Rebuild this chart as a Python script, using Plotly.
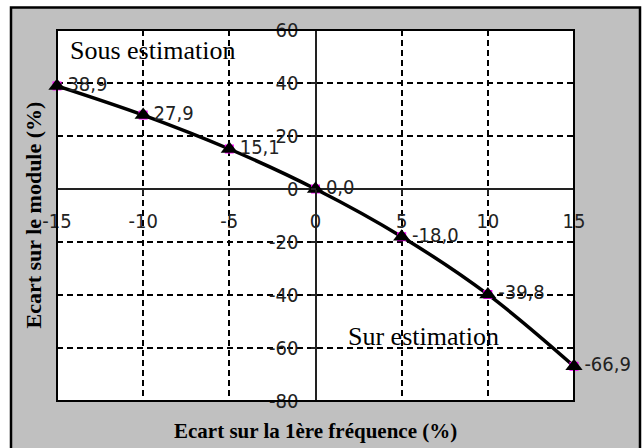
import plotly.graph_objects as go

# Ecart sur la 1ere frequence (%) vs Ecart sur le module (%)
freq_ecart = [-15, -10, -5, 0, 5, 10, 15]
module_ecart = [38.9, 27.9, 15.1, 0.0, -18.0, -39.8, -66.9]
labels = ["38,9", "27,9", "15,1", "0,0", "-18,0", "-39,8", "-66,9"]

x_ticks = [-15, -10, -5, 0, 5, 10, 15]
y_ticks = [60, 40, 20, 0, -20, -40, -60, -80]

narrow = "DejaVu Sans Condensed, Liberation Sans Narrow, sans-serif"
serif = "Liberation Serif, Times New Roman, serif"

fig = go.Figure()

# line + magenta square behind the markers
fig.add_trace(go.Scatter(
    x=freq_ecart, y=module_ecart,
    mode="lines+markers",
    line=dict(color="black", width=3.5, shape="spline"),
    marker=dict(symbol="square", size=9, color="#ff00ff"),
    cliponaxis=False, hoverinfo="skip", showlegend=False,
))
# black triangles with value labels
fig.add_trace(go.Scatter(
    x=freq_ecart, y=module_ecart,
    mode="markers+text",
    marker=dict(symbol="triangle-up", size=15, color="black", line=dict(width=0)),
    text=labels, textposition="middle right",
    textfont=dict(family=narrow, size=20, color="#222"),
    cliponaxis=False, showlegend=False,
))

y_zero_frac = (0 - y_ticks[-1]) / (y_ticks[0] - y_ticks[-1])

fig.update_xaxes(
    range=[-15, 15], tickvals=x_ticks, ticktext=[str(v) for v in x_ticks],
    anchor="free", position=y_zero_frac,
    showgrid=True, gridcolor="black", gridwidth=1.5, griddash="6px,4px",
    zeroline=True, zerolinecolor="#222", zerolinewidth=2,
    showline=False, ticks="outside", ticklen=5, tickcolor="#222", tickwidth=1.5,
    ticklabelstandoff=9,
    tickfont=dict(family=narrow, size=20, color="#222"),
)
fig.update_yaxes(
    range=[-80, 60], tickvals=y_ticks, ticktext=[str(v) for v in y_ticks],
    anchor="free", position=0.5,
    showgrid=True, gridcolor="black", gridwidth=1.5, griddash="6px,4px",
    zeroline=True, zerolinecolor="#222", zerolinewidth=2,
    showline=False, ticks="outside", ticklen=5, tickcolor="#222", tickwidth=1.5,
    ticklabelstandoff=8,
    tickfont=dict(family=narrow, size=20, color="#222"),
)

L, R, T, B = 57, 70, 30, 47
W, H = 644, 448
pw, ph = W - L - R, H - T - B

def px_x(p):
    return (p - L) / pw

def px_y(p):
    return 1 - (p - T) / ph

fig.update_layout(
    width=W, height=H,
    margin=dict(l=L, r=R, t=T, b=B),
    paper_bgcolor="white", plot_bgcolor="white",
    shapes=[
        # grey outer panel with black border
        dict(type="rect", xref="paper", yref="paper", layer="below",
             x0=px_x(11), x1=px_x(640), y0=px_y(460), y1=px_y(7.5),
             fillcolor="#c0c0c0", line=dict(color="black", width=2.5)),
        # white plot area
        dict(type="rect", xref="paper", yref="paper", layer="below",
             x0=0, x1=1, y0=0, y1=1, fillcolor="white", line=dict(width=0)),
        # plot area frame
        dict(type="rect", xref="paper", yref="paper", layer="above",
             x0=0, x1=1, y0=0, y1=1,
             line=dict(color="black", width=2)),
    ],
    annotations=[
        dict(text="Sous estimation", x=px_x(68), y=px_y(50), xref="paper", yref="paper",
             xanchor="left", yanchor="middle", showarrow=False,
             font=dict(family=serif, size=26, color="black")),
        dict(text="Sur estimation", x=px_x(346), y=px_y(336), xref="paper", yref="paper",
             xanchor="left", yanchor="middle", showarrow=False,
             font=dict(family=serif, size=26, color="black")),
        dict(text="<b>Ecart sur la 1ère fréquence (%)</b>", x=0.5, y=px_y(431),
             xref="paper", yref="paper", xanchor="center", yanchor="middle",
             showarrow=False, font=dict(family=serif, size=21, color="black")),
        dict(text="<b>Ecart sur le module (%)</b>", x=px_x(33), y=0.5,
             xref="paper", yref="paper", xanchor="center", yanchor="middle",
             textangle=-90, showarrow=False,
             font=dict(family=serif, size=22, color="black")),
    ],
)

# page has a default 8px body margin; remove it so the figure sits at 0,0
fig.write_html("out.html", config={"displayModeBar": False},
               post_script="document.body.style.margin='0';")
